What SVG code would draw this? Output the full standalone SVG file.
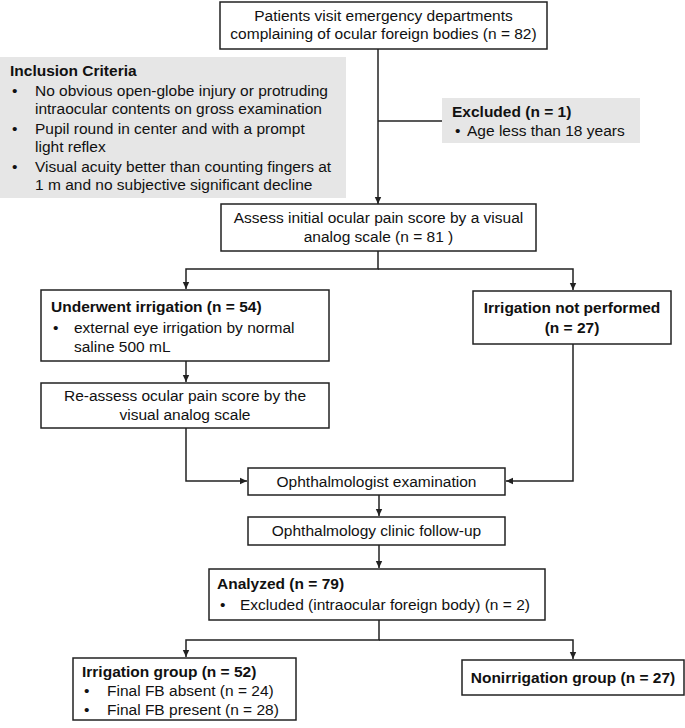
<svg xmlns="http://www.w3.org/2000/svg" width="685" height="728" viewBox="0 0 685 728">
<style>
text{font-family:"Liberation Sans",Arial,sans-serif;font-size:15.5px;fill:#111}
.b{font-weight:bold}
.c{text-anchor:middle}
.box{fill:#fff;stroke:#222;stroke-width:1.5}
.gray{fill:#e6e6e6;stroke:none}
.ln{fill:none;stroke:#222;stroke-width:1.5}
</style>
<defs>
<marker id="ar" markerWidth="8" markerHeight="8" refX="7" refY="4" orient="auto" markerUnits="userSpaceOnUse">
<path d="M0,0.8 L7,4 L0,7.2 Z" fill="#222"/>
</marker>
</defs>
<g id="connectors">
<path class="ln" d="M378,49 V204" marker-end="url(#ar)"/>
<path class="ln" d="M378,121 H442"/>
<path class="ln" d="M378,251 V269 H186 V289" marker-end="url(#ar)"/>
<path class="ln" d="M378,269 H573 V290" marker-end="url(#ar)"/>
<path class="ln" d="M186,361 V382" marker-end="url(#ar)"/>
<path class="ln" d="M186,428 V481 H247" marker-end="url(#ar)"/>
<path class="ln" d="M573,344 V481 H506" marker-end="url(#ar)"/>
<path class="ln" d="M379,495 V516" marker-end="url(#ar)"/>
<path class="ln" d="M379,545 V568" marker-end="url(#ar)"/>
<path class="ln" d="M379,620 V640 H186 V657" marker-end="url(#ar)"/>
<path class="ln" d="M379,640 H573 V659" marker-end="url(#ar)"/>
</g>
<g id="n_patients">
<rect class="box" x="220" y="2" width="327" height="47"/>
<text class="c" x="383.5" y="21">Patients visit emergency departments</text>
<text class="c" x="383.5" y="39">complaining of ocular foreign bodies (n = 82)</text>
</g>
<g id="n_inclusion">
<rect class="gray" x="0" y="57" width="346" height="141"/>
<text class="b" x="10" y="76">Inclusion Criteria</text>
<text x="12" y="95.5">•</text><text x="35" y="95.5">No obvious open-globe injury or protruding</text>
<text x="35" y="114">intraocular contents on gross examination</text>
<text x="12" y="133.5">•</text><text x="35" y="133.5">Pupil round in center and with a prompt</text>
<text x="35" y="152">light reflex</text>
<text x="12" y="171.5">•</text><text x="35" y="171.5">Visual acuity better than counting fingers at</text>
<text x="35" y="190">1 m and no subjective significant decline</text>
</g>
<g id="n_excluded">
<rect class="gray" x="442" y="98" width="198" height="45"/>
<text class="b" x="452" y="117">Excluded (n = 1)</text>
<text x="455" y="136">•</text><text x="467" y="136">Age less than 18 years</text>
</g>
<g id="n_assess">
<rect class="box" x="221" y="204" width="315" height="47"/>
<text class="c" x="378.5" y="223">Assess initial ocular pain score by a visual</text>
<text class="c" x="378.5" y="242">analog scale (n = 81 )</text>
</g>
<g id="n_underwent">
<rect class="box" x="41" y="290" width="288" height="71"/>
<text class="b" x="51" y="312">Underwent irrigation (n = 54)</text>
<text x="53" y="333">•</text><text x="74" y="333">external eye irrigation by normal</text>
<text x="74" y="352">saline 500 mL</text>
</g>
<g id="n_notperformed">
<rect class="box" x="473" y="291" width="198" height="53"/>
<text class="b c" x="572" y="313">Irrigation not performed</text>
<text class="b c" x="572" y="333">(n = 27)</text>
</g>
<g id="n_reassess">
<rect class="box" x="41" y="383" width="288" height="45"/>
<text class="c" x="185" y="401">Re-assess ocular pain score by the</text>
<text class="c" x="185" y="420">visual analog scale</text>
</g>
<g id="n_ophth">
<rect class="box" x="248" y="468" width="257" height="27"/>
<text class="c" x="376.5" y="487">Ophthalmologist examination</text>
</g>
<g id="n_followup">
<rect class="box" x="248" y="517" width="257" height="28"/>
<text class="c" x="376.5" y="536">Ophthalmology clinic follow-up</text>
</g>
<g id="n_analyzed">
<rect class="box" x="209" y="569" width="336" height="51"/>
<text class="b" x="217" y="589">Analyzed (n = 79)</text>
<text x="220" y="610">•</text><text x="240" y="610">Excluded (intraocular foreign body) (n = 2)</text>
</g>
<g id="n_irrgroup">
<rect class="box" x="73" y="658" width="223" height="62"/>
<text class="b" x="82" y="677">Irrigation group (n = 52)</text>
<text x="84" y="696">•</text><text x="107" y="696">Final FB absent (n = 24)</text>
<text x="84" y="715">•</text><text x="107" y="715">Final FB present (n = 28)</text>
</g>
<g id="n_nonirr">
<rect class="box" x="462" y="660" width="222" height="35"/>
<text class="b c" x="573" y="683">Nonirrigation group (n = 27)</text>
</g>
</svg>
